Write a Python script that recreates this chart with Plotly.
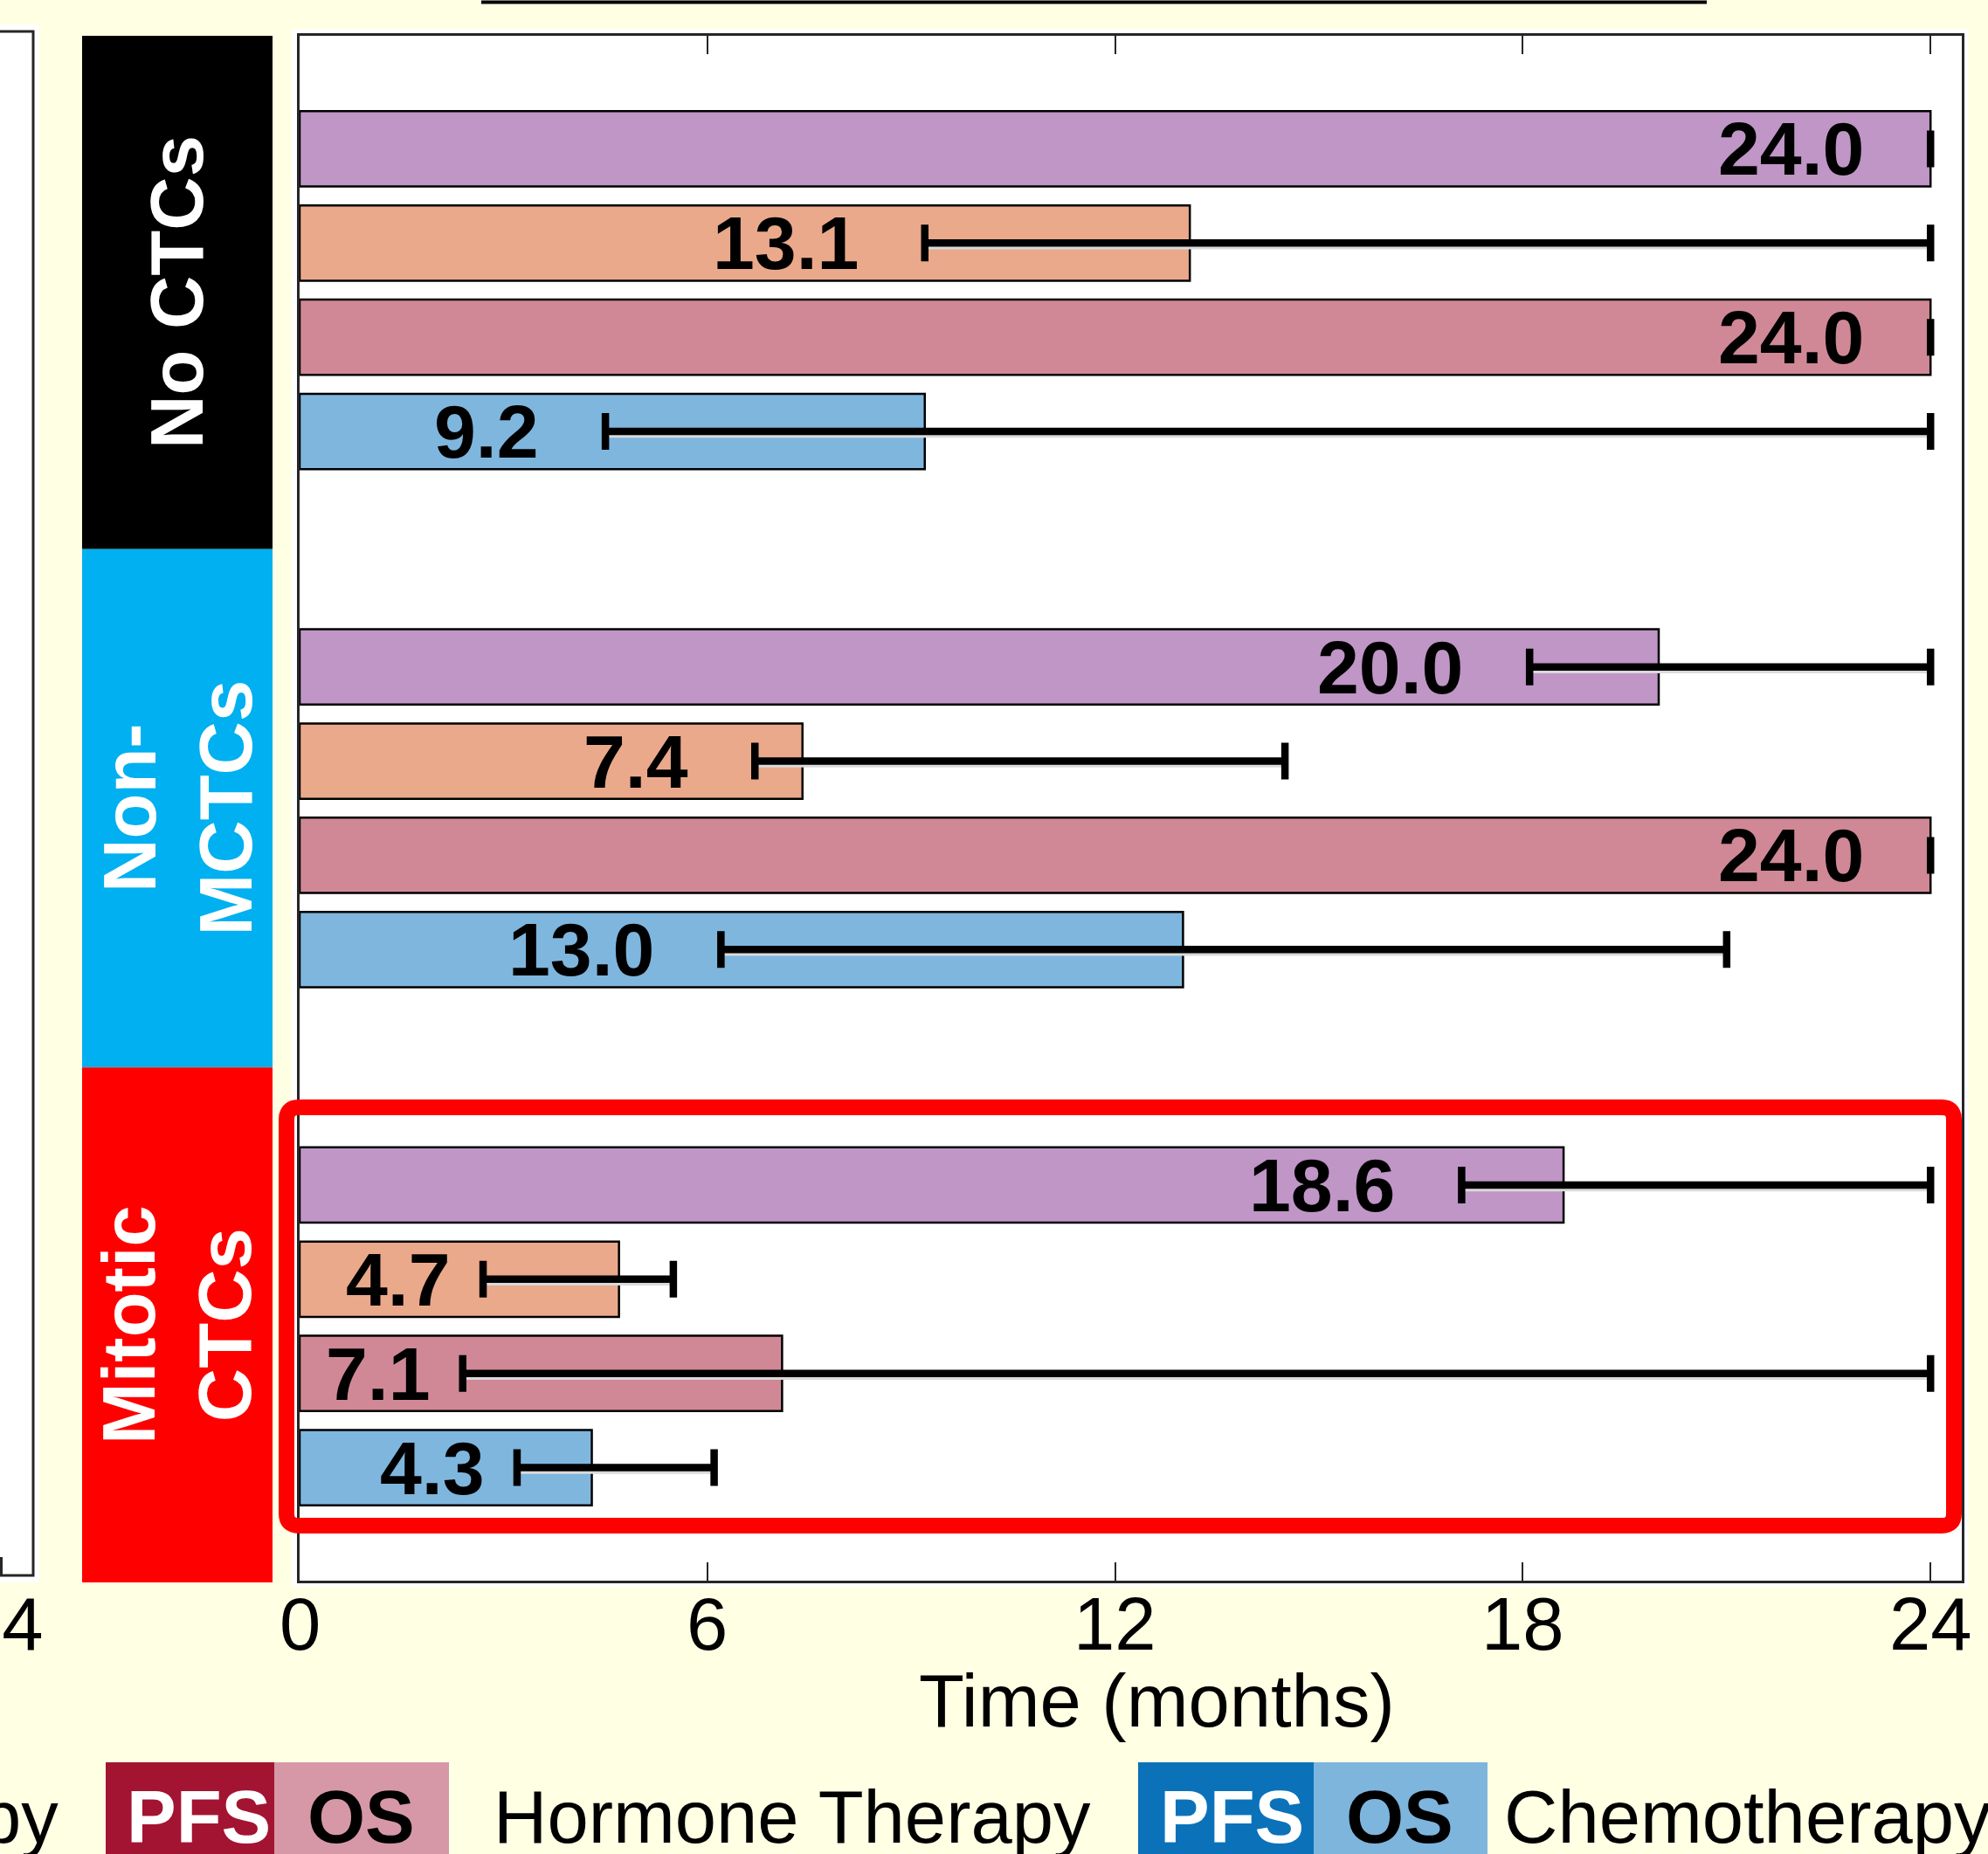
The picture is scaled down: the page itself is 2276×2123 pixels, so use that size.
import plotly.graph_objects as go

# ---- data -------------------------------------------------------------
groups = ["No CTCs", "Non-<br>MCTCs", "Mitotic<br>CTCs"]
group_colors = ["#000000", "#00B0F0", "#FF0000"]
tick_values = [0, 6, 12, 18, 24]

# median time (months) with 95% CI bounds, one entry per CTC group
purple_median = [24.0, 20.0, 18.6]
purple_ci_low = [24.0, 18.1, 17.1]
purple_ci_high = [24.0, 24.0, 24.0]

salmon_median = [13.1, 7.4, 4.7]
salmon_ci_low = [9.2, 6.7, 2.7]
salmon_ci_high = [24.0, 14.5, 5.5]

pink_median = [24.0, 24.0, 7.1]
pink_ci_low = [24.0, 24.0, 2.4]
pink_ci_high = [24.0, 24.0, 24.0]

blue_median = [9.2, 13.0, 4.3]
blue_ci_low = [4.5, 6.2, 3.2]
blue_ci_high = [24.0, 21.0, 6.1]

series = [
    (purple_median, purple_ci_low, purple_ci_high, "#BF96C6"),
    (salmon_median, salmon_ci_low, salmon_ci_high, "#EBA98B"),
    (pink_median, pink_ci_low, pink_ci_high, "#D08896"),
    (blue_median, blue_ci_low, blue_ci_high, "#7FB6DE"),
]

# ---- geometry ---------------------------------------------------------
W, H = 2276, 2123
ML, MR, MT, MB = 343, 30, 41, 313
PW, PH = W - ML - MR, H - MT - MB
X_MAX = 24.46
Y_TOP, Y_BOT = -1.2, 15.2
GROUP_STEP = 5.5
BAR_W = 0.8
FONT = "Liberation Sans, Arial, sans-serif"
BG = "#FFFFE4"
FRAME = "#262626"


def px_x(p):
    return (p - ML) / PW


def px_y(p):
    return (H - MB - p) / PH


def data_y_to_px(v):
    return MT + (v - Y_TOP) / (Y_BOT - Y_TOP) * PH


fig = go.Figure()

# bars
for k, (med, lo, hi, col) in enumerate(series):
    ys = [g * GROUP_STEP + k for g in range(len(groups))]
    fig.add_trace(go.Bar(
        x=med, y=ys, orientation="h", width=BAR_W,
        marker=dict(color=col, line=dict(color="#000000", width=2.5)),
        hoverinfo="skip", showlegend=False,
    ))

# soft shadow under the CI whiskers
for k, (med, lo, hi, col) in enumerate(series):
    sx, sy = [], []
    for g in range(len(groups)):
        if hi[g] > lo[g]:
            yy = g * GROUP_STEP + k + 0.035
            sx += [lo[g], hi[g], None]
            sy += [yy, yy, None]
    if sx:
        fig.add_trace(go.Scatter(
            x=sx, y=sy, mode="lines",
            line=dict(color="#DADADA", width=7),
            hoverinfo="skip", showlegend=False,
        ))

# CI whiskers
for k, (med, lo, hi, col) in enumerate(series):
    ys = [g * GROUP_STEP + k for g in range(len(groups))]
    fig.add_trace(go.Scatter(
        x=med, y=ys, mode="markers",
        marker=dict(size=1, color="rgba(0,0,0,0)"),
        error_x=dict(
            type="data", symmetric=False,
            array=[h - m for h, m in zip(hi, med)],
            arrayminus=[m - l for m, l in zip(med, lo)],
            color="#000000", thickness=8.5, width=21,
        ),
        hoverinfo="skip", showlegend=False,
    ))

# value labels, placed left of the lower CI bound
annotations = []
for k, (med, lo, hi, col) in enumerate(series):
    for g in range(len(groups)):
        gap = 0.95 if lo[g] > 4 else 0.45
        annotations.append(dict(
            x=lo[g] - gap, y=g * GROUP_STEP + k, xref="x", yref="y",
            text=f"{med[g]:.1f}", showarrow=False, xanchor="right", yanchor="middle",
            font=dict(family=FONT, size=86, color="#000000", weight="bold"),
        ))

# x tick labels
TICK_Y = 1859
for v in tick_values:
    annotations.append(dict(
        x=v, y=px_y(TICK_Y), xref="x", yref="paper", text=str(v),
        showarrow=False, xanchor="center", yanchor="middle",
        font=dict(family=FONT, size=85, color="#000000"),
    ))

shapes = []

# white backing around the axes frame
shapes.append(dict(type="rect", xref="paper", yref="paper",
                   x0=px_x(334), x1=px_x(2253), y0=px_y(1817), y1=px_y(33),
                   fillcolor="#FFFFFF", line=dict(width=0), layer="below"))

# neighbouring panel edge on the left
shapes.append(dict(type="rect", xref="paper", yref="paper",
                   x0=px_x(-20), x1=px_x(45), y0=px_y(1812), y1=px_y(28),
                   fillcolor="#FFFFFF", line=dict(width=0), layer="below"))
shapes.append(dict(type="rect", xref="paper", yref="paper",
                   x0=px_x(-20), x1=px_x(38), y0=px_y(1804), y1=px_y(36),
                   fillcolor="rgba(0,0,0,0)", line=dict(color=FRAME, width=3)))
shapes.append(dict(type="line", xref="paper", yref="paper",
                   x0=px_x(1.5), x1=px_x(1.5), y0=px_y(1804), y1=px_y(1783),
                   line=dict(color=FRAME, width=3)))

# group strips
bounds = [Y_TOP, 3 + (GROUP_STEP - 3) / 2, GROUP_STEP + 3 + (GROUP_STEP - 3) / 2, Y_BOT]
for g, (name, col) in enumerate(zip(groups, group_colors)):
    top_px = data_y_to_px(bounds[g])
    bot_px = data_y_to_px(bounds[g + 1]) + (2 if g == len(groups) - 1 else 0)
    shapes.append(dict(type="rect", xref="paper", yref="paper",
                       x0=px_x(94), x1=px_x(312), y0=px_y(bot_px), y1=px_y(top_px),
                       fillcolor=col, line=dict(width=0), layer="above"))
    annotations.append(dict(
        x=px_x(203), y=px_y((top_px + bot_px) / 2), xref="paper", yref="paper",
        text=name, showarrow=False, textangle=-90,
        xanchor="center", yanchor="middle",
        font=dict(family=FONT, size=85, color="#FFFFFF", weight="bold"),
    ))


# highlight box around the mitotic group
def rounded_rect_path(l, t, r, b, rad):
    pts = [
        ("M", l + rad, t), ("L", r - rad, t), ("Q", r, t, r, t + rad),
        ("L", r, b - rad), ("Q", r, b, r - rad, b), ("L", l + rad, b),
        ("Q", l, b, l, b - rad), ("L", l, t + rad), ("Q", l, t, l + rad, t),
    ]
    out = []
    for p in pts:
        cmd, vals = p[0], p[1:]
        coords = []
        for i in range(0, len(vals), 2):
            coords.append(f"{px_x(vals[i]):.5f},{px_y(vals[i + 1]):.5f}")
        out.append(cmd + " ".join(coords))
    return " ".join(out) + " Z"


shapes.append(dict(type="path", xref="paper", yref="paper",
                   path=rounded_rect_path(328, 1268, 2237, 1747, 14),
                   line=dict(color="#FF0000", width=18), layer="above"))

# underline of the panel heading above
shapes.append(dict(type="line", xref="paper", yref="paper",
                   x0=px_x(551), x1=px_x(1954), y0=px_y(2.5), y1=px_y(2.5),
                   line=dict(color="#000000", width=4)))

# legend blocks
legend_boxes = [
    (121, 314, "#A31432", "PFS", "#FFFFFF", 227),
    (314, 514, "#D698A6", "OS", "#000000", 413),
    (1303, 1504, "#0B72BA", "PFS", "#FFFFFF", 1410),
    (1504, 1703, "#7EB5DD", "OS", "#000000", 1602),
]
LEG_Y = 2080
for x0, x1, col, txt, tcol, tx in legend_boxes:
    shapes.append(dict(type="rect", xref="paper", yref="paper",
                       x0=px_x(x0), x1=px_x(x1), y0=px_y(2140), y1=px_y(2018),
                       fillcolor=col, line=dict(width=0)))
    annotations.append(dict(
        x=px_x(tx), y=px_y(LEG_Y), xref="paper", yref="paper", text=txt,
        showarrow=False, xanchor="center", yanchor="middle",
        font=dict(family=FONT, size=85, color=tcol, weight="bold"),
    ))
for txt, xpos, anchor in [("Therapy", 69, "right"),
                          ("Hormone Therapy", 563, "left"),
                          ("Chemotherapy", 1720, "left")]:
    annotations.append(dict(
        x=px_x(xpos), y=px_y(LEG_Y), xref="paper", yref="paper", text=txt,
        showarrow=False, xanchor=anchor, yanchor="middle",
        font=dict(family=FONT, size=85, color="#000000"),
    ))

# axis title and the neighbouring panel's last tick label
annotations.append(dict(
    x=px_x(1324), y=px_y(1947), xref="paper", yref="paper", text="Time (months)",
    showarrow=False, xanchor="center", yanchor="middle",
    font=dict(family=FONT, size=85, color="#000000"),
))
annotations.append(dict(
    x=px_x(52), y=px_y(TICK_Y), xref="paper", yref="paper", text="24",
    showarrow=False, xanchor="right", yanchor="middle",
    font=dict(family=FONT, size=85, color="#000000"),
))

fig.update_layout(
    width=W, height=H,
    margin=dict(l=ML, r=MR, t=MT, b=MB, pad=0),
    paper_bgcolor=BG, plot_bgcolor="#FFFFFF",
    barmode="overlay", showlegend=False, hovermode=False,
    font=dict(family=FONT, color="#000000"),
    shapes=shapes, annotations=annotations,
    xaxis=dict(
        range=[0, X_MAX], tickvals=tick_values, showticklabels=False,
        ticks="inside", ticklen=21, tickwidth=2, tickcolor=FRAME,
        showline=True, linecolor=FRAME, linewidth=3, mirror="ticks",
        showgrid=False, zeroline=False,
    ),
    yaxis=dict(
        range=[Y_BOT, Y_TOP], showticklabels=False, ticks="",
        showline=True, linecolor=FRAME, linewidth=3, mirror=True,
        showgrid=False, zeroline=False,
    ),
)

fig.write_html("out.html")
